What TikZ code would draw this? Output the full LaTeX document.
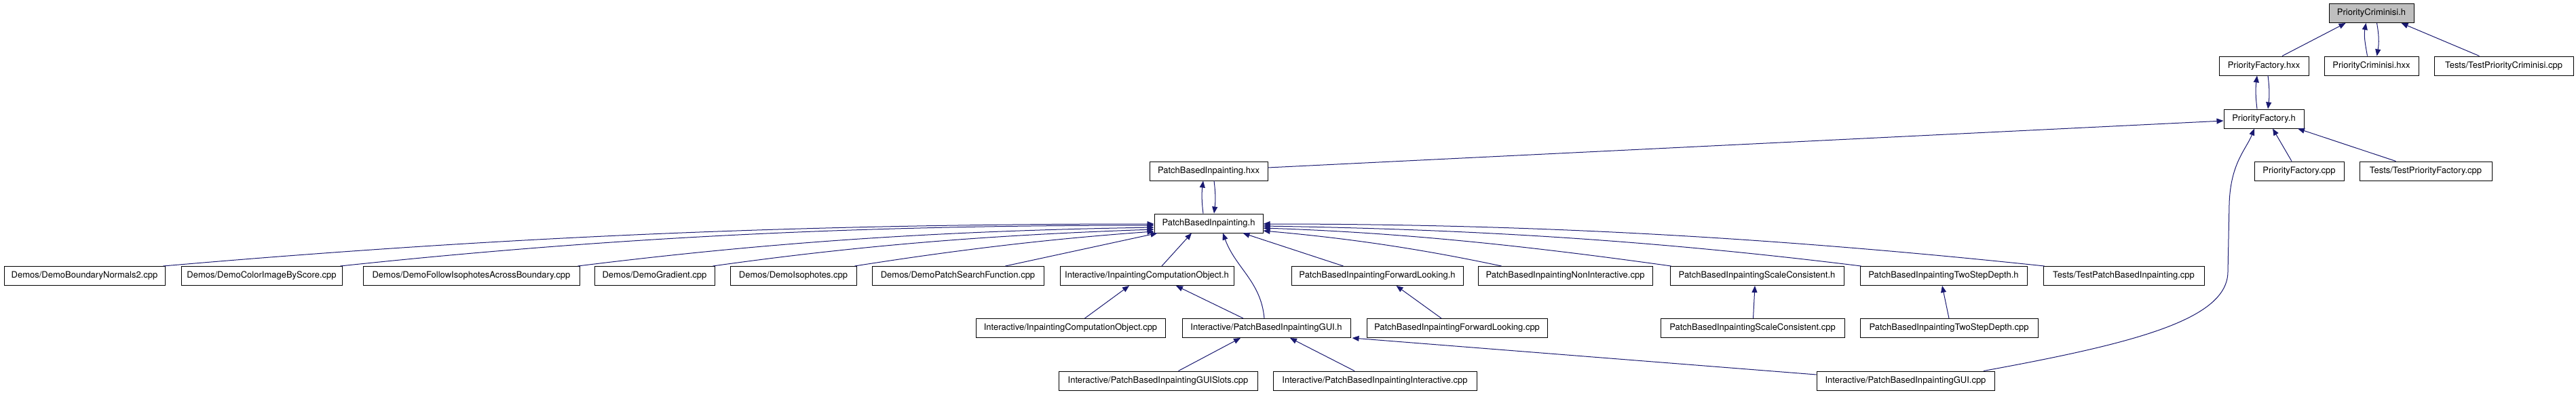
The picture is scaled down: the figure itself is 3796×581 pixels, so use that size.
\documentclass[tikz,border=0pt]{standalone}
\usepackage{fontspec}
\setmainfont{TeX Gyre Heros}
\usetikzlibrary{arrows.meta}
\definecolor{navy}{HTML}{191970}

\begin{document}
\begin{tikzpicture}[
  x=1pt, y=1pt,
  font=\fontsize{13}{15}\selectfont,
  box/.style={draw=black, line width=1pt, fill=white, minimum height=28pt, inner sep=0pt},
  topbox/.style={box, fill=black!25},
  arrow/.style={-{Triangle[length=10pt,width=8pt]}, line width=1pt, draw=navy}
]
\useasboundingbox (0,0) rectangle (3796,-581);

\node[topbox, minimum width=125pt] (pch) at (3494.5,-19.5) {PriorityCriminisi.h};

\node[box, minimum width=132pt] (pfhxx) at (3336,-97) {PriorityFactory.hxx};
\node[box, minimum width=139pt] (pchxx) at (3494.5,-97) {PriorityCriminisi.hxx};
\node[box, minimum width=205pt] (tpc) at (3689.5,-97) {Tests/TestPriorityCriminisi.cpp};

\node[box, minimum width=118pt] (pfh) at (3336,-175) {PriorityFactory.h};

\node[box, minimum width=174pt] (pbihxx) at (1781,-252) {PatchBasedInpainting.hxx};
\node[box, minimum width=132pt] (pfcpp) at (3388,-252) {PriorityFactory.cpp};
\node[box, minimum width=195pt] (tpf) at (3574.5,-252) {Tests/TestPriorityFactory.cpp};

\node[box, minimum width=160pt] (pbih) at (1781,-329) {PatchBasedInpainting.h};

\node[box, minimum width=237pt] (dbn) at (124.5,-406.5) {Demos/DemoBoundaryNormals2.cpp};
\node[box, minimum width=237pt] (dcis) at (385.5,-406.5) {Demos/DemoColorImageByScore.cpp};
\node[box, minimum width=319pt] (dfi) at (694.5,-406.5) {Demos/DemoFollowIsophotesAcrossBoundary.cpp};
\node[box, minimum width=177pt] (dgr) at (964.5,-406.5) {Demos/DemoGradient.cpp};
\node[box, minimum width=186pt] (dis) at (1169,-406.5) {Demos/DemoIsophotes.cpp};
\node[box, minimum width=253pt] (dps) at (1411.5,-406.5) {Demos/DemoPatchSearchFunction.cpp};
\node[box, minimum width=256pt] (icoh) at (1690,-406.5) {Interactive/InpaintingComputationObject.h};
\node[box, minimum width=253pt] (pflh) at (2029.5,-406.5) {PatchBasedInpaintingForwardLooking.h};
\node[box, minimum width=257pt] (pnic) at (2306.5,-406.5) {PatchBasedInpaintingNonInteractive.cpp};
\node[box, minimum width=256pt] (psch) at (2589,-406.5) {PatchBasedInpaintingScaleConsistent.h};
\node[box, minimum width=246pt] (ptsh) at (2864,-406.5) {PatchBasedInpaintingTwoStepDepth.h};
\node[box, minimum width=237pt] (tpbi) at (3129.5,-406.5) {Tests/TestPatchBasedInpainting.cpp};

\node[box, minimum width=279pt] (icocpp) at (1577.5,-483.5) {Interactive/InpaintingComputationObject.cpp};
\node[box, minimum width=248pt] (guih) at (1866,-483.5) {Interactive/PatchBasedInpaintingGUI.h};
\node[box, minimum width=266pt] (pflcpp) at (2147,-483.5) {PatchBasedInpaintingForwardLooking.cpp};
\node[box, minimum width=271pt] (psccpp) at (2582.5,-483.5) {PatchBasedInpaintingScaleConsistent.cpp};
\node[box, minimum width=262pt] (ptscpp) at (2872,-483.5) {PatchBasedInpaintingTwoStepDepth.cpp};

\node[box, minimum width=293pt] (guislots) at (1706.5,-561) {Interactive/PatchBasedInpaintingGUISlots.cpp};
\node[box, minimum width=300pt] (guiinter) at (2026,-561) {Interactive/PatchBasedInpaintingInteractive.cpp};
\node[box, minimum width=262pt] (guicpp) at (2808,-561) {Interactive/PatchBasedInpaintingGUI.cpp};

\draw[arrow] ([xshift=27pt]pfhxx.north) -- ([xshift=-38pt]pch.south);
\draw[arrow] ([xshift=-6pt]pchxx.north) to[out=100, in=-100] ([xshift=-8pt]pch.south);
\draw[arrow] ([xshift=8pt]pch.south) to[out=-80, in=80] ([xshift=8pt]pchxx.north);
\draw[arrow] ([xshift=-36pt]tpc.north) -- ([xshift=44pt]pch.south);

\draw[arrow] ([xshift=-10pt]pfh.north) to[out=97, in=-97] ([xshift=-10pt]pfhxx.south);
\draw[arrow] ([xshift=6pt]pfhxx.south) to[out=-83, in=83] ([xshift=6pt]pfh.north);
\draw[arrow] ([yshift=5pt]pbihxx.east) -- ([yshift=-3pt]pfh.west);
\draw[arrow] ([xshift=-11pt]pfcpp.north) -- ([xshift=13pt]pfh.south);
\draw[arrow] ([xshift=-44pt]tpf.north) -- ([xshift=50pt]pfh.south);
\draw[arrow] ([xshift=115pt]guicpp.north) .. controls (3150,-505) and (3283,-470) .. (3283,-400)
  -- (3285,-300) .. controls (3287,-240) and (3310,-220) .. ([xshift=-14pt]pfh.south);

\draw[arrow] ([xshift=-8pt]pbih.north) to[out=97, in=-97] ([xshift=-8pt]pbihxx.south);
\draw[arrow] ([xshift=8pt]pbihxx.south) to[out=-83, in=83] ([xshift=8pt]pbih.north);

\draw[arrow] ([xshift=-3pt]dbn.north east) .. controls (748,-348) and (1191,-330) .. ([yshift=-1pt]pbih.west);
\draw[arrow] ([xshift=-3pt]dcis.north east) .. controls (916,-348) and (1281,-332) .. ([yshift=-3pt]pbih.west);
\draw[arrow] ([xshift=-3pt]dfi.north east) .. controls (1149,-355) and (1401,-340) .. ([yshift=-6pt]pbih.west);
\draw[arrow] ([xshift=-3pt]dgr.north east) .. controls (1278,-360) and (1471,-346) .. ([yshift=-9pt]pbih.west);
\draw[arrow] ([xshift=-3pt]dis.north east) .. controls (1412,-368) and (1546,-352) .. ([yshift=-12pt]pbih.west);
\draw[arrow] ([xshift=70pt]dps.north) -- ([xshift=5pt]pbih.south west);
\draw[arrow] ([xshift=22pt]icoh.north) -- ([xshift=-25pt]pbih.south);
\draw[arrow] ([xshift=-3pt]guih.north) to[out=95, in=-70] ([xshift=21pt]pbih.south);
\draw[arrow] ([xshift=-50pt]pflh.north) -- ([xshift=-30pt]pbih.south east);
\draw[arrow] ([xshift=-94pt]pnic.north) .. controls (2090,-366) and (1986,-351) .. ([yshift=-11pt]pbih.east);
\draw[arrow] ([xshift=2pt]psch.north west) .. controls (2255,-363) and (2071,-343) .. ([yshift=-7pt]pbih.east);
\draw[arrow] ([xshift=2pt]ptsh.north west) .. controls (2435,-354) and (2171,-338) .. ([yshift=-4pt]pbih.east);
\draw[arrow] ([xshift=2pt]tpbi.north west) .. controls (2615,-350) and (2261,-330) .. ([yshift=-1pt]pbih.east);

\draw[arrow] ([xshift=21pt]icocpp.north) -- ([xshift=-26pt]icoh.south);
\draw[arrow] ([xshift=-34pt]guih.north) -- ([xshift=43pt]icoh.south);
\draw[arrow] ([xshift=-23pt]pflcpp.north) -- ([xshift=28pt]pflh.south);
\draw[arrow] ([xshift=1pt]psccpp.north) -- ([xshift=-3pt]psch.south);
\draw[arrow] (ptscpp.north) -- ([xshift=-2pt]ptsh.south);

\draw[arrow] ([xshift=30pt]guislots.north) -- ([xshift=-38pt]guih.south);
\draw[arrow] ([xshift=-30pt]guiinter.north) -- ([xshift=35pt]guih.south);
\draw[arrow] ([yshift=9pt]guicpp.west) -- ([xshift=2pt]guih.south east);

\end{tikzpicture}
\end{document}
